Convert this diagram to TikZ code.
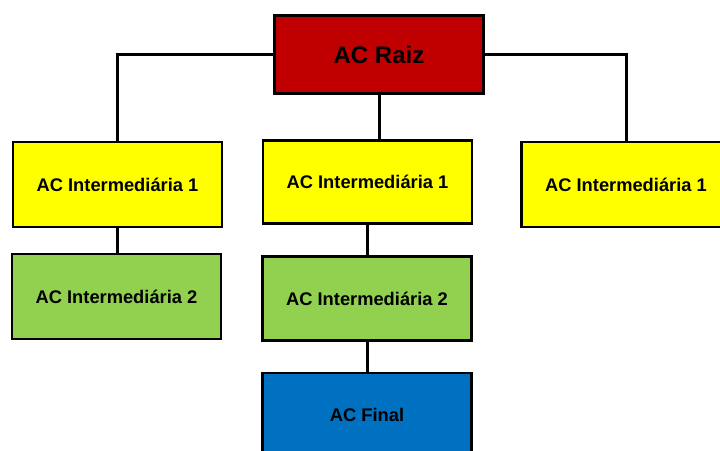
\documentclass[tikz,border=0pt]{standalone}
\usepackage{fontspec}
\setmainfont{Liberation Sans}
\definecolor{raizred}{HTML}{C00000}
\definecolor{interyellow}{HTML}{FFFF00}
\definecolor{intergreen}{HTML}{92D050}
\definecolor{finalblue}{HTML}{0070C0}
\begin{document}
\begin{tikzpicture}[x=1pt,y=-1pt,
  cabox/.style={draw=black, line width=2.4pt, minimum width=209pt, minimum height=84pt,
    inner sep=0pt, font=\fontsize{18.3}{21}\selectfont\bfseries, text=black},
  link/.style={draw=black, line width=3pt}]
  \useasboundingbox (0,0) rectangle (720,450);
  \clip (0,0) rectangle (720,450);
  \fill[white] (0,0) rectangle (720,450);

  % root authority
  \node[cabox, fill=raizred, minimum height=78pt, font=\fontsize{24}{27}\selectfont\bfseries]
    (raiz) at (379,54.5) {AC Raiz};

  % intermediate level 1
  \node[cabox, fill=interyellow, minimum height=85pt] (l1) at (117.5,184.5) {AC Intermediária 1};
  \node[cabox, fill=interyellow, minimum height=83pt] (m1) at (367.5,182) {AC Intermediária 1};
  \node[cabox, fill=interyellow, minimum height=85pt] (r1) at (626,184.5) {AC Intermediária 1};

  % intermediate level 2
  \node[cabox, fill=intergreen, minimum height=85pt] (l2) at (116.5,296.5) {AC Intermediária 2};
  \node[cabox, fill=intergreen] (m2) at (367,298.5) {AC Intermediária 2};

  % end authority
  \node[cabox, fill=finalblue] (final) at (367,415) {AC Final};

  % hierarchy links
  \draw[link] (raiz.west) -| (l1.north);
  \draw[link] (raiz.east) -| (r1.north);
  \draw[link] (raiz.south) -- (raiz.south |- m1.north);
  \draw[link] (l1.south) -- (l1.south |- l2.north);
  \draw[link] (m1.south) -- (m1.south |- m2.north);
  \draw[link] (m2.south) -- (final.north);
\end{tikzpicture}
\end{document}
